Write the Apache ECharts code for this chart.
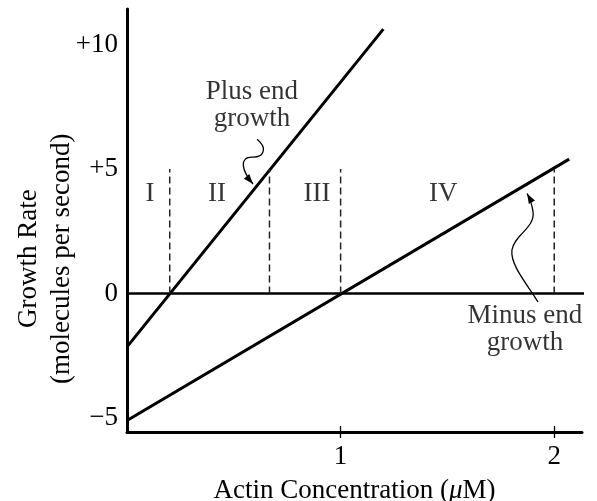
<!DOCTYPE html>
<html><head><meta charset="utf-8">
<script src="https://cdn.jsdelivr.net/npm/echarts@6/dist/echarts.min.js"></script>
<style>html,body{margin:0;padding:0;background:#fff}#c{width:597px;height:501px}</style>
</head><body><div id="c"></div>
<script>
// ---- data ----
const plusEnd = [[0, -2.14], [1.2, 10.62]];
const minusEnd = [[0, -5.1], [2.07, 5.4]];
const zeroLine = [[0, 0], [2.18, 0]];
const regionBounds = [0.2, 0.667, 1, 2];
const regionTop = 5;
const regionLabels = ['I', 'II', 'III', 'IV'];
const regionLabelX = [0.108, 0.421, 0.889, 1.48];
const regionLabelY = 4.0;
const yTickValues = [-5, 0, 5, 10];
const yTickLabels = ['\u22125', '0', '+5', '+10'];
const xTickValues = [1, 2];
const xTickLabels = ['1', '2'];
const notes = [
  { text: 'Plus end\ngrowth', x: 0.585, y: 7.55 },
  { text: 'Minus end\ngrowth', x: 1.863, y: -1.42 }
];
// curly arrows, cubic segments in data units: [start, cp1, cp2, end, cp1, cp2, end ...]
const plusArrow = [[0.609, 6.20], [0.660, 5.84], [0.640, 5.45], [0.585, 5.48], [0.525, 5.48], [0.535, 4.96], [0.59, 4.40]];
const minusArrow = [[1.924, -0.34], [1.877, 0.34], [1.793, 1.14], [1.802, 1.75], [1.812, 2.35], [1.910, 2.63], [1.901, 3.27], [1.896, 3.59], [1.887, 3.80], [1.873, 4.02]];

const FONT = 'Liberation Serif';
const FS = 27;
const chart = echarts.init(document.getElementById('c'), null, { renderer: 'canvas' });

const labelBase = { show: true, color: '#000', fontFamily: FONT, fontSize: FS,
  textBorderWidth: 0, textBorderColor: 'transparent', textShadowBlur: 0 };

const series = [
  { type: 'line', data: zeroLine, showSymbol: false, clip: false, silent: true,
    lineStyle: { color: '#000', width: 2.5 } },
  { type: 'line', data: plusEnd, showSymbol: false, silent: true,
    lineStyle: { color: '#000', width: 3 } },
  { type: 'line', data: minusEnd, showSymbol: false, silent: true,
    lineStyle: { color: '#000', width: 3 } }
];
regionBounds.forEach(function (x) {
  series.push({ type: 'line', data: [[x, 0], [x, regionTop]], showSymbol: false, silent: true,
    lineStyle: { color: '#222', width: 1.5, type: [7, 4] } });
});
series.push({ type: 'scatter', symbolSize: 0, silent: true, itemStyle: { color: '#000' },
  data: regionLabels.map(function (n, i) { return { name: n, value: [regionLabelX[i], regionLabelY] }; }),
  label: Object.assign({ position: 'inside', formatter: '{b}' }, labelBase) });
series.push({ type: 'scatter', symbolSize: 0, silent: true, itemStyle: { color: '#000' },
  data: notes.map(function (n) { return { name: n.text, value: [n.x, n.y] }; }),
  label: Object.assign({ position: 'inside', formatter: '{b}', lineHeight: 27, align: 'center' }, labelBase) });

chart.setOption({
  animation: false,
  backgroundColor: '#fff',
  grid: { left: 127, right: 15, top: 9, bottom: 69, containLabel: false, outerBoundsMode: 'none' },
  xAxis: [{
    type: 'value', min: 0, max: 2.13, position: 'bottom',
    name: 'Actin Concentration ({i|\u03bc}M)', nameLocation: 'middle', nameGap: 45,
    nameTextStyle: { color: '#000', fontFamily: FONT, fontSize: FS,
      rich: { i: { fontStyle: 'italic', fontFamily: FONT, fontSize: FS, color: '#000' } } },
    axisLine: { show: true, onZero: false, lineStyle: { color: '#000', width: 3 } },
    axisTick: { show: true, customValues: xTickValues, length: 6, lineStyle: { color: '#000', width: 1.3 } },
    axisLabel: { show: true, customValues: xTickValues, margin: 11, color: '#000', fontFamily: FONT, fontSize: FS,
      formatter: function (v) { return xTickLabels[xTickValues.indexOf(v)]; } },
    splitLine: { show: false }
  }, {
    type: 'value', min: 0, max: 2.13, position: 'bottom', offset: 0,
    axisLine: { show: false, onZero: false },
    axisTick: { show: true, inside: true, customValues: xTickValues, length: 6, lineStyle: { color: '#000', width: 1.3 } },
    axisLabel: { show: false }, splitLine: { show: false }
  }],
  yAxis: {
    type: 'value', min: -5.56, max: 11.43,
    axisLine: { show: true, onZero: false, lineStyle: { color: '#000', width: 3 } },
    axisTick: { show: false },
    axisLabel: { show: true, customValues: yTickValues, margin: 9, color: '#000', fontFamily: FONT, fontSize: FS,
      formatter: function (v) { return yTickLabels[yTickValues.indexOf(v)]; } },
    splitLine: { show: false }
  },
  series: series
});

function px(p) { return chart.convertToPixel({ gridIndex: 0 }, p); }
function arrow(pts) {
  const els = [];
  const P = pts.map(px);
  for (let i = 0; i + 3 < P.length; i += 3) {
    els.push({ type: 'bezierCurve', silent: true,
      shape: { x1: P[i][0], y1: P[i][1], cpx1: P[i + 1][0], cpy1: P[i + 1][1],
        cpx2: P[i + 2][0], cpy2: P[i + 2][1], x2: P[i + 3][0], y2: P[i + 3][1] },
      style: { stroke: '#000', lineWidth: 1.3, fill: null } });
  }
  const T = P[P.length - 1], C = P[P.length - 2];
  let dx = T[0] - C[0], dy = T[1] - C[1];
  const L = Math.sqrt(dx * dx + dy * dy); dx /= L; dy /= L;
  const bx = T[0] - 10 * dx, by = T[1] - 10 * dy;
  els.push({ type: 'polygon', silent: true,
    shape: { points: [[T[0], T[1]], [bx - 3.5 * dy, by + 3.5 * dx], [bx + 3.5 * dy, by - 3.5 * dx]] },
    style: { fill: '#000' } });
  return els;
}

const yTitleCenter = px([0, 1.4]);
chart.setOption({
  graphic: [].concat(arrow(plusArrow), arrow(minusArrow), [{
    type: 'text', silent: true, x: 45, y: yTitleCenter[1], rotation: Math.PI / 2,
    style: { text: 'Growth Rate\n(molecules per second)', fill: '#000', font: FS + 'px "' + FONT + '"',
      align: 'center', verticalAlign: 'middle', lineHeight: 33 }
  }])
});
</script>
</body></html>
